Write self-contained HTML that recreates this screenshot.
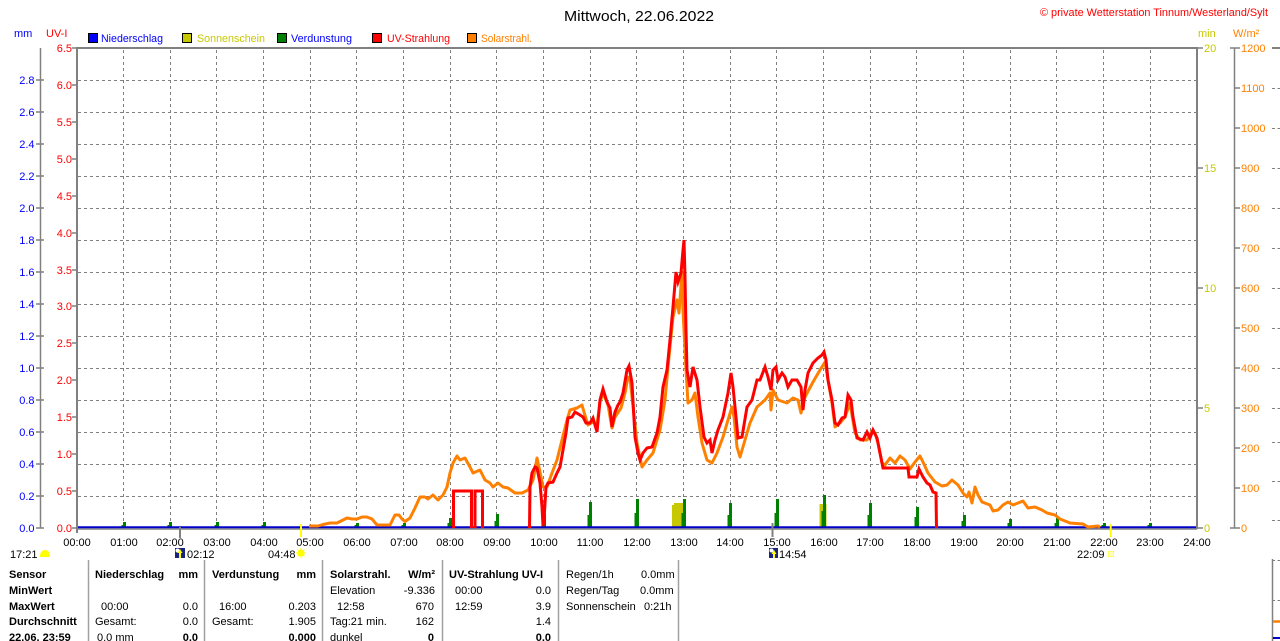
<!DOCTYPE html>
<html><head><meta charset="utf-8"><style>
html,body{margin:0;padding:0;background:#fff;}
svg{display:block;}
text{font-family:"Liberation Sans",Arial,sans-serif;font-size:11px;}
.b{font-weight:bold;}
</style></head><body>
<svg width="1280" height="641" viewBox="0 0 1280 641" xmlns="http://www.w3.org/2000/svg">
<rect width="1280" height="641" fill="#fff"/>
<!-- title -->
<text x="564" y="21" style="font-size:15px" textLength="150" lengthAdjust="spacingAndGlyphs" fill="#000">Mittwoch, 22.06.2022</text>
<text x="1040" y="16" fill="#ff0000" textLength="228" lengthAdjust="spacingAndGlyphs">© private Wetterstation Tinnum/Westerland/Sylt</text>
<!-- axis unit labels -->
<text x="14" y="37" fill="#0000ff">mm</text>
<text x="46" y="37" fill="#ff0000">UV-I</text>
<text x="1198" y="37" fill="#c8c800">min</text>
<text x="1233" y="37" fill="#ff8000">W/m²</text>
<!-- legend -->
<rect x="88.5" y="33.5" width="9" height="9" fill="#0000ff" stroke="#000"/>
<text x="101" y="42" fill="#0000ff" textLength="62" lengthAdjust="spacingAndGlyphs">Niederschlag</text>
<rect x="182.5" y="33.5" width="9" height="9" fill="#c8c800" stroke="#000"/>
<text x="197" y="42" fill="#c8c800" textLength="68" lengthAdjust="spacingAndGlyphs">Sonnenschein</text>
<rect x="277.5" y="33.5" width="9" height="9" fill="#008000" stroke="#000"/>
<text x="291" y="42" fill="#0000ff" textLength="61" lengthAdjust="spacingAndGlyphs">Verdunstung</text>
<rect x="372.5" y="33.5" width="9" height="9" fill="#ff0000" stroke="#000"/>
<text x="387" y="42" fill="#ff0000" textLength="63" lengthAdjust="spacingAndGlyphs">UV-Strahlung</text>
<rect x="467.5" y="33.5" width="9" height="9" fill="#ff8000" stroke="#000"/>
<text x="481" y="42" fill="#ff8000" textLength="51" lengthAdjust="spacingAndGlyphs">Solarstrahl.</text>

<!-- grid -->
<g stroke="#808080" stroke-width="1" stroke-dasharray="3,3" fill="none" shape-rendering="crispEdges">
<path d="M78 80.5H1196M78 112.5H1196M78 144.5H1196M78 176.5H1196M78 208.5H1196M78 240.5H1196M78 272.5H1196M78 304.5H1196M78 336.5H1196M78 368.5H1196M78 400.5H1196M78 432.5H1196M78 464.5H1196M78 496.5H1196"/>
<path d="M123.5 50V528M170.5 50V528M216.5 50V528M263.5 50V528M310.5 50V528M356.5 50V528M403.5 50V528M450.5 50V528M496.5 50V528M543.5 50V528M590.5 50V528M636.5 50V528M683.5 50V528M730.5 50V528M776.5 50V528M823.5 50V528M870.5 50V528M916.5 50V528M963.5 50V528M1010.5 50V528M1056.5 50V528M1103.5 50V528M1150.5 50V528"/>
</g>

<!-- sunshine bars -->
<g fill="#c8c800">
<rect x="672" y="505" width="3" height="23"/><rect x="674" y="503" width="9.5" height="25"/>
<rect x="819.5" y="504" width="7" height="24"/>
</g>
<!-- evaporation bars -->
<g fill="#008000">
<rect x="123" y="522" width="3" height="6"/><rect x="121.5" y="525" width="2" height="3"/>
<rect x="169" y="522" width="3" height="6"/><rect x="167.5" y="525" width="2" height="3"/>
<rect x="216" y="522" width="3" height="6"/><rect x="214.5" y="525" width="2" height="3"/>
<rect x="263" y="522" width="3" height="6"/><rect x="261.5" y="525" width="2" height="3"/>
<rect x="356" y="523" width="3" height="5"/><rect x="354.5" y="525" width="2" height="3"/>
<rect x="403" y="523" width="3" height="5"/><rect x="401.5" y="525" width="2" height="3"/>
<rect x="449" y="518" width="3" height="10"/><rect x="447.5" y="523" width="2" height="5"/>
<rect x="496" y="514" width="3" height="14"/><rect x="494.5" y="521" width="2" height="7"/>
<rect x="543" y="514" width="3" height="14"/><rect x="541.5" y="521" width="2" height="7"/>
<rect x="589" y="502" width="3" height="26"/><rect x="587.5" y="515" width="2" height="13"/>
<rect x="636" y="499" width="3" height="29"/><rect x="634.5" y="513" width="2" height="15"/>
<rect x="683" y="499" width="3" height="29"/><rect x="681.5" y="513" width="2" height="15"/>
<rect x="729" y="503" width="3" height="25"/><rect x="727.5" y="515" width="2" height="13"/>
<rect x="776" y="499" width="3" height="29"/><rect x="774.5" y="513" width="2" height="15"/>
<rect x="823" y="495" width="3" height="33"/><rect x="821.5" y="511" width="2" height="17"/>
<rect x="869" y="503" width="3" height="25"/><rect x="867.5" y="515" width="2" height="13"/>
<rect x="916" y="507" width="3" height="21"/><rect x="914.5" y="517" width="2" height="11"/>
<rect x="963" y="515" width="3" height="13"/><rect x="961.5" y="521" width="2" height="7"/>
<rect x="1009" y="519" width="3" height="9"/><rect x="1007.5" y="523" width="2" height="5"/>
<rect x="1056" y="518" width="3" height="10"/><rect x="1054.5" y="523" width="2" height="5"/>
<rect x="1103" y="523" width="3" height="5"/><rect x="1101.5" y="525" width="2" height="3"/>
<rect x="1149" y="523" width="3" height="5"/><rect x="1147.5" y="525" width="2" height="3"/>
</g>

<!-- frame -->
<g stroke="#808080" fill="none">
<line x1="77" y1="48" x2="1198" y2="48" stroke-width="2"/>
<line x1="77" y1="47" x2="77" y2="533" stroke-width="2"/>
<line x1="1197" y1="47" x2="1197" y2="529" stroke-width="2"/>
<line x1="77" y1="529" x2="1197" y2="529" stroke-width="1.5"/>
</g>
<!-- precipitation baseline -->
<line x1="78" y1="527.3" x2="1196" y2="527.3" stroke="#0000c8" stroke-width="2"/>

<!-- solar radiation -->
<polyline fill="none" stroke="#ff8000" stroke-width="3" stroke-linejoin="round" points="309,526 318,526 323,524.5 330,523 337,523 343,520 347,518 352,519 357,519 362,517 367,517 372,519 377,525 390,525 393,519 395,515 399,515 402,519 405,521.5 410,518 415,508 420,497 425,497 428,499 433,495 438,500 443,495 447,487 450,473 453,463 457,456 460,460 465,458 470,467 473,473 480,470 485,480 490,483 493,487 498,483 503,487 508,488 515,493 522,493 528,490 533,480 535,470 537,458 540,472 543,487 547,487 552,473 557,460 562,440 567,420 570,410 577,408 582,405 584,412 588,425 593,422 597,425 600,402 603,393 608,405 612,428 615,417 621,408 625,393 628,377 630,378 632,397 637,443 642,467 647,460 653,453 660,430 665,400 668,367 673,317 677,300 679,313 682,272 683,310 686,370 688,403 692,400 695,393 698,417 702,443 707,460 712,463 717,453 723,437 728,420 732,407 734,417 737,447 740,457 745,440 750,423 757,407 765,400 770,393 771,410 773,390 778,400 787,403 793,398 798,400 801,413 805,397 813,382 820,370 825,362 828,380 832,403 835,427 840,423 845,417 850,403 855,433 860,440 867,440 872,431 875,433 878,443 882,463 885,465 890,458 895,463 900,456 905,460 910,469 915,462 920,456 923,462 928,473 935,482 942,486 947,485 952,480 958,485 963,493 967,497 969,492 972,503 975,487 978,495 982,502 990,505 993,511 998,510 1003,505 1008,502 1013,505 1018,503 1023,501 1028,508 1035,507 1042,510 1047,513 1055,515 1060,519 1070,523 1083,524 1088,527 1098,526 1100,527.5"/>

<!-- UV -->
<g fill="none" stroke="#ff0000" stroke-width="3" stroke-linejoin="miter">
<polyline points="453.5,528 453.5,491 471.5,491 471.5,528"/>
<polyline points="475,528 475,491 482.5,491 482.5,528"/>
<polyline points="529.5,528 530,487 532,473 535,467 537,468 540,483 542,507 543,526 544,520 546,487 548,483 553,482 557,473 560,467 563,450 566,433 568,418 572,417 575,412 580,415 583,417 586,423 590,423 593,418 597,432 600,400 603,389 607,402 610,408 612,427 615,412 618,405 620,402 623,393 627,370 629,366 632,383 635,437 638,453 640,460 643,453 647,448 652,447 657,433 660,417 663,387 667,370 670,340 673,307 676,272 678,282 681,273 683,250 684,240 685,277 686,330 687,370 690,387 693,367 697,380 700,407 704,437 707,443 710,440 712,453 715,440 718,430 723,417 728,393 731,373 733,387 736,417 738,438 742,437 747,407 752,400 757,380 760,380 765,367 768,377 771,390 773,370 776,367 778,380 782,373 785,377 788,387 792,380 797,380 801,387 803,410 805,390 808,373 813,363 818,358 822,355 824,352 826,360 828,380 832,400 835,423 838,425 842,418 845,417 848,395 851,400 853,417 857,438 863,440 867,432 870,438 873,430 877,438 880,453 883,468 908,468 909,477 917,477 919,469 923,477 927,483 930,485 933,492 936,493 936.5,528"/>
</g>

<!-- left mm axis -->
<g stroke="#808080" stroke-width="1.5" fill="none">
<line x1="40.5" y1="48" x2="40.5" y2="528"/>
<path d="M36 528H44M36 496H44M36 464H44M36 432H44M36 400H44M36 368H44M36 336H44M36 304H44M36 272H44M36 240H44M36 208H44M36 176H44M36 144H44M36 112H44M36 80H44"/>
<path d="M72 528H77M72 491H77M72 454H77M72 417H77M72 380H77M72 343H77M72 306H77M72 270H77M72 233H77M72 196H77M72 159H77M72 122H77M72 85H77M72 48H77"/>
</g>
<g fill="#0000ff" text-anchor="end">
<text x="34.5" y="532">0.0</text><text x="34.5" y="500">0.2</text><text x="34.5" y="468">0.4</text><text x="34.5" y="436">0.6</text><text x="34.5" y="404">0.8</text><text x="34.5" y="372">1.0</text><text x="34.5" y="340">1.2</text><text x="34.5" y="308">1.4</text><text x="34.5" y="276">1.6</text><text x="34.5" y="244">1.8</text><text x="34.5" y="212">2.0</text><text x="34.5" y="180">2.2</text><text x="34.5" y="148">2.4</text><text x="34.5" y="116">2.6</text><text x="34.5" y="84">2.8</text>
</g>
<g fill="#ff0000" text-anchor="end">
<text x="72" y="532">0.0</text><text x="72" y="495">0.5</text><text x="72" y="458">1.0</text><text x="72" y="421">1.5</text><text x="72" y="384">2.0</text><text x="72" y="347">2.5</text><text x="72" y="310">3.0</text><text x="72" y="274">3.5</text><text x="72" y="237">4.0</text><text x="72" y="200">4.5</text><text x="72" y="163">5.0</text><text x="72" y="126">5.5</text><text x="72" y="89">6.0</text><text x="72" y="52">6.5</text>
</g>

<!-- right axes -->
<g stroke="#808080" stroke-width="1.5" fill="none">
<path d="M1197 48H1203M1197 168H1203M1197 288H1203M1197 408H1203M1197 528H1203"/>
<line x1="1234.5" y1="48" x2="1234.5" y2="528"/>
<path d="M1230 48H1240M1230 528H1240M1234 88H1240M1234 128H1240M1234 168H1240M1234 208H1240M1234 248H1240M1234 288H1240M1234 328H1240M1234 368H1240M1234 408H1240M1234 448H1240M1234 488H1240"/>
</g>
<g fill="#c8c800">
<text x="1204" y="52">20</text><text x="1204" y="172">15</text><text x="1204" y="292">10</text><text x="1204" y="412">5</text><text x="1204" y="532">0</text>
</g>
<g fill="#ff8000">
<text x="1241" y="52">1200</text><text x="1241" y="92">1100</text><text x="1241" y="132">1000</text><text x="1241" y="172">900</text><text x="1241" y="212">800</text><text x="1241" y="252">700</text><text x="1241" y="292">600</text><text x="1241" y="332">500</text><text x="1241" y="372">400</text><text x="1241" y="412">300</text><text x="1241" y="452">200</text><text x="1241" y="492">100</text><text x="1241" y="532">0</text>
</g>
<!-- right edge fragment -->
<g stroke="#808080" fill="none">
<line x1="1272" y1="48" x2="1280" y2="48" stroke-width="2"/>
<path stroke-dasharray="3,2.5" d="M1272 88.5H1280M1272 128.5H1280M1272 168.5H1280M1272 208.5H1280M1272 248.5H1280M1272 288.5H1280M1272 328.5H1280M1272 368.5H1280M1272 408.5H1280M1272 442.5H1280M1272 481.5H1280M1272 520.5H1280M1272 560.5H1280M1272 600.5H1280"/>
<line x1="1272.5" y1="559" x2="1272.5" y2="641" stroke-width="1.5"/>
</g>
<line x1="1273" y1="621.5" x2="1280" y2="621.5" stroke="#ff8000" stroke-width="2.5"/>
<line x1="1273" y1="638" x2="1280" y2="638" stroke="#0000c8" stroke-width="2"/>

<!-- x labels -->
<g fill="#000" text-anchor="middle">
<text x="77" y="546">00:00</text><text x="124" y="546">01:00</text><text x="170" y="546">02:00</text><text x="217" y="546">03:00</text><text x="264" y="546">04:00</text><text x="310" y="546">05:00</text><text x="357" y="546">06:00</text><text x="404" y="546">07:00</text><text x="450" y="546">08:00</text><text x="497" y="546">09:00</text><text x="544" y="546">10:00</text><text x="590" y="546">11:00</text><text x="637" y="546">12:00</text><text x="684" y="546">13:00</text><text x="730" y="546">14:00</text><text x="777" y="546">15:00</text><text x="824" y="546">16:00</text><text x="870" y="546">17:00</text><text x="917" y="546">18:00</text><text x="964" y="546">19:00</text><text x="1010" y="546">20:00</text><text x="1057" y="546">21:00</text><text x="1104" y="546">22:00</text><text x="1150" y="546">23:00</text><text x="1197" y="546">24:00</text>
</g>
<!-- sun/moon markers -->
<line x1="301" y1="524" x2="301" y2="537" stroke="#ffff00" stroke-width="2"/>
<line x1="1110.7" y1="524" x2="1110.7" y2="537" stroke="#ffff00" stroke-width="2"/>
<line x1="180" y1="527" x2="180" y2="538" stroke="#808080" stroke-width="2"/>
<line x1="772.5" y1="523" x2="772.5" y2="537" stroke="#808080" stroke-width="2"/>
<text x="10" y="558" fill="#000">17:21</text>
<path d="M40 557 Q40 550 45 550 Q50 550 50 557 Z" fill="#ffff00"/>
<rect x="175" y="548" width="10" height="10" fill="#1a237e"/>
<circle cx="177.5" cy="550.5" r="2" fill="#ffffff"/>
<path d="M180 549 L182.5 553 L181 553 L181 558 L179 558 L179 553 L177.5 553 Z" fill="#ffff00"/>
<text x="187" y="558" fill="#000">02:12</text>
<text x="268" y="558" fill="#000">04:48</text>
<circle cx="301" cy="553" r="3.5" fill="#ffff00"/>
<path d="M296 553H306M301 548V558M297.5 549.5L304.5 556.5M304.5 549.5L297.5 556.5" stroke="#ffff00" stroke-width="1"/>
<rect x="769" y="548" width="9" height="10" fill="#1a237e"/>
<circle cx="771.5" cy="550.5" r="2" fill="#ffffff"/>
<path d="M774 550 L776.5 554 L775 554 L775 558 L773 558 L773 554 L771.5 554 Z" fill="#ffff00"/>
<text x="779" y="558" fill="#000">14:54</text>
<text x="1077" y="558" fill="#000">22:09</text>
<rect x="1108.5" y="551.5" width="5" height="5" fill="#ffffc0" stroke="#ffff60"/>

<!-- table separators -->
<g stroke="#a0a0a0" stroke-width="1.5">
<line x1="88.5" y1="560" x2="88.5" y2="641"/><line x1="204.5" y1="560" x2="204.5" y2="641"/><line x1="322.5" y1="560" x2="322.5" y2="641"/><line x1="442.5" y1="560" x2="442.5" y2="641"/><line x1="558.5" y1="560" x2="558.5" y2="641"/><line x1="678.5" y1="560" x2="678.5" y2="641"/>
</g>
<!-- table -->
<g fill="#000">
<text class="b" x="9" y="578">Sensor</text>
<text class="b" x="9" y="594">MinWert</text>
<text class="b" x="9" y="610">MaxWert</text>
<text class="b" x="9" y="625">Durchschnitt</text>
<text class="b" x="9" y="641">22.06. 23:59</text>

<text class="b" x="95" y="578">Niederschlag</text>
<text class="b" x="198" y="578" text-anchor="end">mm</text>
<text x="101" y="610">00:00</text><text x="198" y="610" text-anchor="end">0.0</text>
<text x="95" y="625">Gesamt:</text><text x="198" y="625" text-anchor="end">0.0</text>
<text x="97" y="641">0.0 mm</text><text class="b" x="198" y="641" text-anchor="end">0.0</text>

<text class="b" x="212" y="578">Verdunstung</text>
<text class="b" x="316" y="578" text-anchor="end">mm</text>
<text x="219" y="610">16:00</text><text x="316" y="610" text-anchor="end">0.203</text>
<text x="212" y="625">Gesamt:</text><text x="316" y="625" text-anchor="end">1.905</text>
<text class="b" x="316" y="641" text-anchor="end">0.000</text>

<text class="b" x="330" y="578">Solarstrahl.</text>
<text class="b" x="435" y="578" text-anchor="end">W/m²</text>
<text x="330" y="594">Elevation</text><text x="435" y="594" text-anchor="end">-9.336</text>
<text x="337" y="610">12:58</text><text x="434" y="610" text-anchor="end">670</text>
<text x="330" y="625">Tag:21 min.</text><text x="434" y="625" text-anchor="end">162</text>
<text x="330" y="641">dunkel</text><text class="b" x="434" y="641" text-anchor="end">0</text>

<text class="b" x="449" y="578">UV-Strahlung UV-I</text>
<text x="455" y="594">00:00</text><text x="551" y="594" text-anchor="end">0.0</text>
<text x="455" y="610">12:59</text><text x="551" y="610" text-anchor="end">3.9</text>
<text x="551" y="625" text-anchor="end">1.4</text>
<text class="b" x="551" y="641" text-anchor="end">0.0</text>

<text x="566" y="578">Regen/1h</text><text x="641" y="578">0.0mm</text>
<text x="566" y="594">Regen/Tag</text><text x="640" y="594">0.0mm</text>
<text x="566" y="610">Sonnenschein</text><text x="644" y="610">0:21h</text>
</g>
</svg>
</body></html>
